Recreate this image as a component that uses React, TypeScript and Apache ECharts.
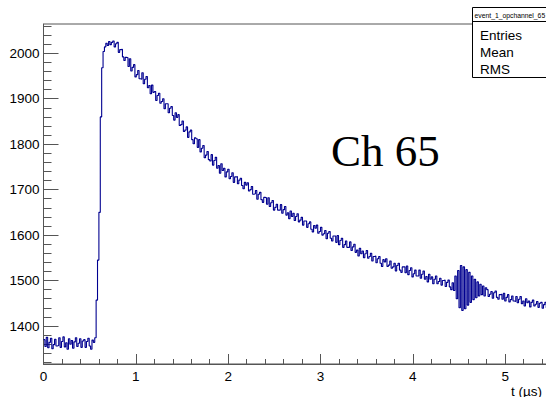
import React, { useEffect, useRef } from "react";
import * as echarts from "echarts";

// Histogram: bin width in microseconds, bins start at t = 0
const BIN_WIDTH_US = 0.015;

// ADC counts per bin, 10 bins per row = 0.15 µs per row
const adcCounts: number[] = [
  1370, 1355, 1375, 1352, 1364, 1373, 1350, 1359, 1371, 1356,
  1357, 1374, 1353, 1366, 1376, 1354, 1363, 1349, 1372, 1360,
  1368, 1351, 1365, 1374, 1355, 1362, 1372, 1353, 1367, 1370,
  1353, 1366, 1373, 1356, 1349, 1369, 1364, 1374, 1457, 1545,
  1650, 1860, 1968, 2004, 2014, 2022, 2017, 2026, 2019, 2024,
  2027, 2014, 2021, 2024, 2002, 2008, 2009, 1992, 1984, 1991,
  1990, 1971, 1988, 1961, 1969, 1975, 1948, 1953, 1962, 1944,
  1943, 1957, 1933, 1943, 1949, 1924, 1929, 1911, 1930, 1914,
  1916, 1896, 1907, 1912, 1890, 1894, 1900, 1878, 1889, 1889,
  1869, 1879, 1883, 1863, 1853, 1869, 1859, 1865, 1841, 1843,
  1851, 1828, 1831, 1838, 1815, 1827, 1831, 1810, 1801, 1814,
  1812, 1793, 1810, 1783, 1791, 1797, 1770, 1776, 1784, 1766,
  1763, 1777, 1754, 1764, 1771, 1747, 1753, 1736, 1757, 1742,
  1747, 1728, 1739, 1745, 1724, 1729, 1737, 1716, 1728, 1729,
  1713, 1721, 1725, 1709, 1702, 1716, 1710, 1715, 1697, 1700,
  1707, 1690, 1691, 1698, 1679, 1690, 1694, 1678, 1672, 1683,
  1682, 1668, 1682, 1663, 1671, 1676, 1655, 1661, 1668, 1655,
  1655, 1667, 1648, 1656, 1663, 1644, 1649, 1636, 1653, 1641,
  1648, 1632, 1641, 1647, 1629, 1633, 1639, 1622, 1631, 1631,
  1617, 1625, 1629, 1613, 1607, 1621, 1615, 1622, 1604, 1608,
  1617, 1600, 1603, 1610, 1592, 1604, 1608, 1593, 1587, 1598,
  1598, 1584, 1599, 1579, 1588, 1593, 1573, 1579, 1587, 1573,
  1573, 1585, 1566, 1574, 1580, 1562, 1567, 1554, 1571, 1559,
  1565, 1550, 1559, 1566, 1549, 1553, 1560, 1543, 1553, 1554,
  1539, 1548, 1553, 1538, 1531, 1546, 1541, 1548, 1531, 1534,
  1543, 1527, 1530, 1538, 1521, 1533, 1538, 1523, 1518, 1530,
  1530, 1517, 1532, 1513, 1522, 1528, 1508, 1515, 1523, 1510,
  1510, 1523, 1505, 1514, 1521, 1503, 1509, 1497, 1514, 1503,
  1508, 1493, 1503, 1510, 1493, 1498, 1505, 1490, 1500, 1501,
  1487, 1496, 1501, 1486, 1480, 1495, 1478, 1510, 1460, 1522,
  1440, 1533, 1434, 1530, 1438, 1524, 1446, 1518, 1452, 1510,
  1458, 1503, 1462, 1497, 1466, 1492, 1469, 1488, 1466, 1484,
  1480, 1465, 1470, 1476, 1461, 1473, 1477, 1463, 1459, 1469,
  1470, 1459, 1472, 1455, 1463, 1469, 1453, 1458, 1466, 1455,
  1454, 1465, 1451, 1459, 1465, 1449, 1455, 1444, 1460, 1451,
  1455, 1442, 1452, 1457, 1444, 1448, 1454, 1441, 1450, 1452,
  1439, 1447, 1452, 1440, 1434, 1448, 1443, 1449, 1436, 1440,
  1446, 1432, 1437, 1445, 1430, 1441, 1446, 1433, 1428, 1439,
];

const xTickLabels = [0, 1, 2, 3, 4, 5];
const yTickLabels = [1400, 1500, 1600, 1700, 1800, 1900, 2000];
const yMinorTicks = [
  1320, 1340, 1360, 1380, 1400, 1420, 1440, 1460, 1480, 1500, 1520, 1540, 1560,
  1580, 1600, 1620, 1640, 1660, 1680, 1700, 1720, 1740, 1760, 1780, 1800, 1820,
  1840, 1860, 1880, 1900, 1920, 1940, 1960, 1980, 2000, 2020, 2040, 2060,
];
const X_MIN = 0;
const X_MAX = 6;
const Y_MIN = 1316.4;
const Y_MAX = 2064.4;

const channelLabel = "Ch 65";
const histTitle = "event_1_opchannel_65";
const statsRows = ["Entries", "Mean", "RMS"];
const xAxisTitle = "t (µs)";

const AXIS_COLOR = "#555";
const LINE_COLOR = "#000090";
const SANS = "'Liberation Sans', Arial, Helvetica, sans-serif";
const SERIF = "'Liberation Serif', 'Times New Roman', serif";

export default function App() {
  const ref = useRef<HTMLDivElement>(null);

  useEffect(() => {
    if (!ref.current) return;
    const chart = echarts.init(ref.current, null, { renderer: "svg" });
    const data = adcCounts.map((v, i) => [i * BIN_WIDTH_US, v]);

    const statsY = [35, 52, 69];

    chart.setOption({
      animation: false,
      backgroundColor: "#ffffff",
      grid: {
        left: 43.5,
        top: 24,
        width: 554,
        height: 340,
        show: true,
        borderColor: AXIS_COLOR,
        borderWidth: 1,
        backgroundColor: "transparent",
      },
      xAxis: {
        type: "value",
        min: X_MIN,
        max: X_MAX,
        interval: 1,
        axisLine: { show: true, onZero: false, lineStyle: { color: AXIS_COLOR, width: 1 } },
        axisTick: { show: true, inside: true, length: 10, lineStyle: { color: AXIS_COLOR } },
        minorTick: { show: true, splitNumber: 5, length: 5, lineStyle: { color: AXIS_COLOR } },
        axisLabel: {
          customValues: xTickLabels,
          margin: 5,
          fontSize: 13.5,
          fontFamily: SANS,
          color: "#000",
          formatter: (v: number) => String(v),
        },
        splitLine: { show: false },
        minorSplitLine: { show: false },
      },
      yAxis: [
        {
          type: "value",
          min: Y_MIN,
          max: Y_MAX,
          position: "left",
          axisLine: { show: true, onZero: false, lineStyle: { color: AXIS_COLOR, width: 1 } },
          axisTick: {
            show: true,
            inside: true,
            length: 15,
            customValues: yTickLabels,
            lineStyle: { color: AXIS_COLOR },
          },
          axisLabel: {
            customValues: yTickLabels,
            margin: 4,
            fontSize: 13.5,
            fontFamily: SANS,
            color: "#000",
            formatter: (v: number) => String(v),
          },
          splitLine: { show: false },
        },
        {
          type: "value",
          min: Y_MIN,
          max: Y_MAX,
          position: "left",
          offset: 0,
          axisLine: { show: false },
          axisTick: {
            show: true,
            inside: true,
            length: 8,
            customValues: yMinorTicks,
            lineStyle: { color: AXIS_COLOR },
          },
          axisLabel: { show: false },
          splitLine: { show: false },
        },
      ],
      series: [
        {
          type: "line",
          step: "end",
          data,
          xAxisIndex: 0,
          yAxisIndex: 0,
          showSymbol: false,
          symbol: "none",
          lineStyle: { color: LINE_COLOR, width: 1.1 },
          clip: true,
        },
      ],
      graphic: [
        {
          type: "text",
          x: 331,
          y: 151,
          z: 50,
          style: {
            text: channelLabel,
            fontSize: 45,
            fontFamily: SERIF,
            fill: "#000",
            textAlign: "left",
            verticalAlign: "middle",
          },
        },
        {
          type: "rect",
          z: 60,
          shape: { x: 472.5, y: 7.5, width: 150, height: 70 },
          style: { fill: "#fff", stroke: "#000", lineWidth: 1 },
        },
        {
          type: "line",
          z: 61,
          shape: { x1: 472.5, y1: 21.5, x2: 622.5, y2: 21.5 },
          style: { stroke: "#000", lineWidth: 1 },
        },
        {
          type: "text",
          x: 474.5,
          y: 15,
          z: 62,
          style: {
            text: histTitle,
            fontSize: 6.8,
            fontFamily: SANS,
            fill: "#000",
            textAlign: "left",
            verticalAlign: "middle",
          },
        },
        ...statsRows.map((t, i) => ({
          type: "text",
          x: 480,
          y: statsY[i],
          z: 62,
          style: {
            text: t,
            fontSize: 13.5,
            fontFamily: SANS,
            fill: "#000",
            textAlign: "left",
            verticalAlign: "middle",
          },
        })),
        {
          type: "text",
          x: 511,
          y: 391,
          z: 62,
          style: {
            text: xAxisTitle,
            fontSize: 13.5,
            fontFamily: SANS,
            fill: "#000",
            textAlign: "left",
            verticalAlign: "middle",
          },
        },
      ],
    });

    return () => chart.dispose();
  }, []);

  return (
    <div
      style={{
        position: "absolute",
        left: 0,
        top: 0,
        width: 546,
        height: 397,
        overflow: "hidden",
        background: "#fff",
      }}
    >
      <div ref={ref} style={{ width: 600, height: 397 }} />
    </div>
  );
}
